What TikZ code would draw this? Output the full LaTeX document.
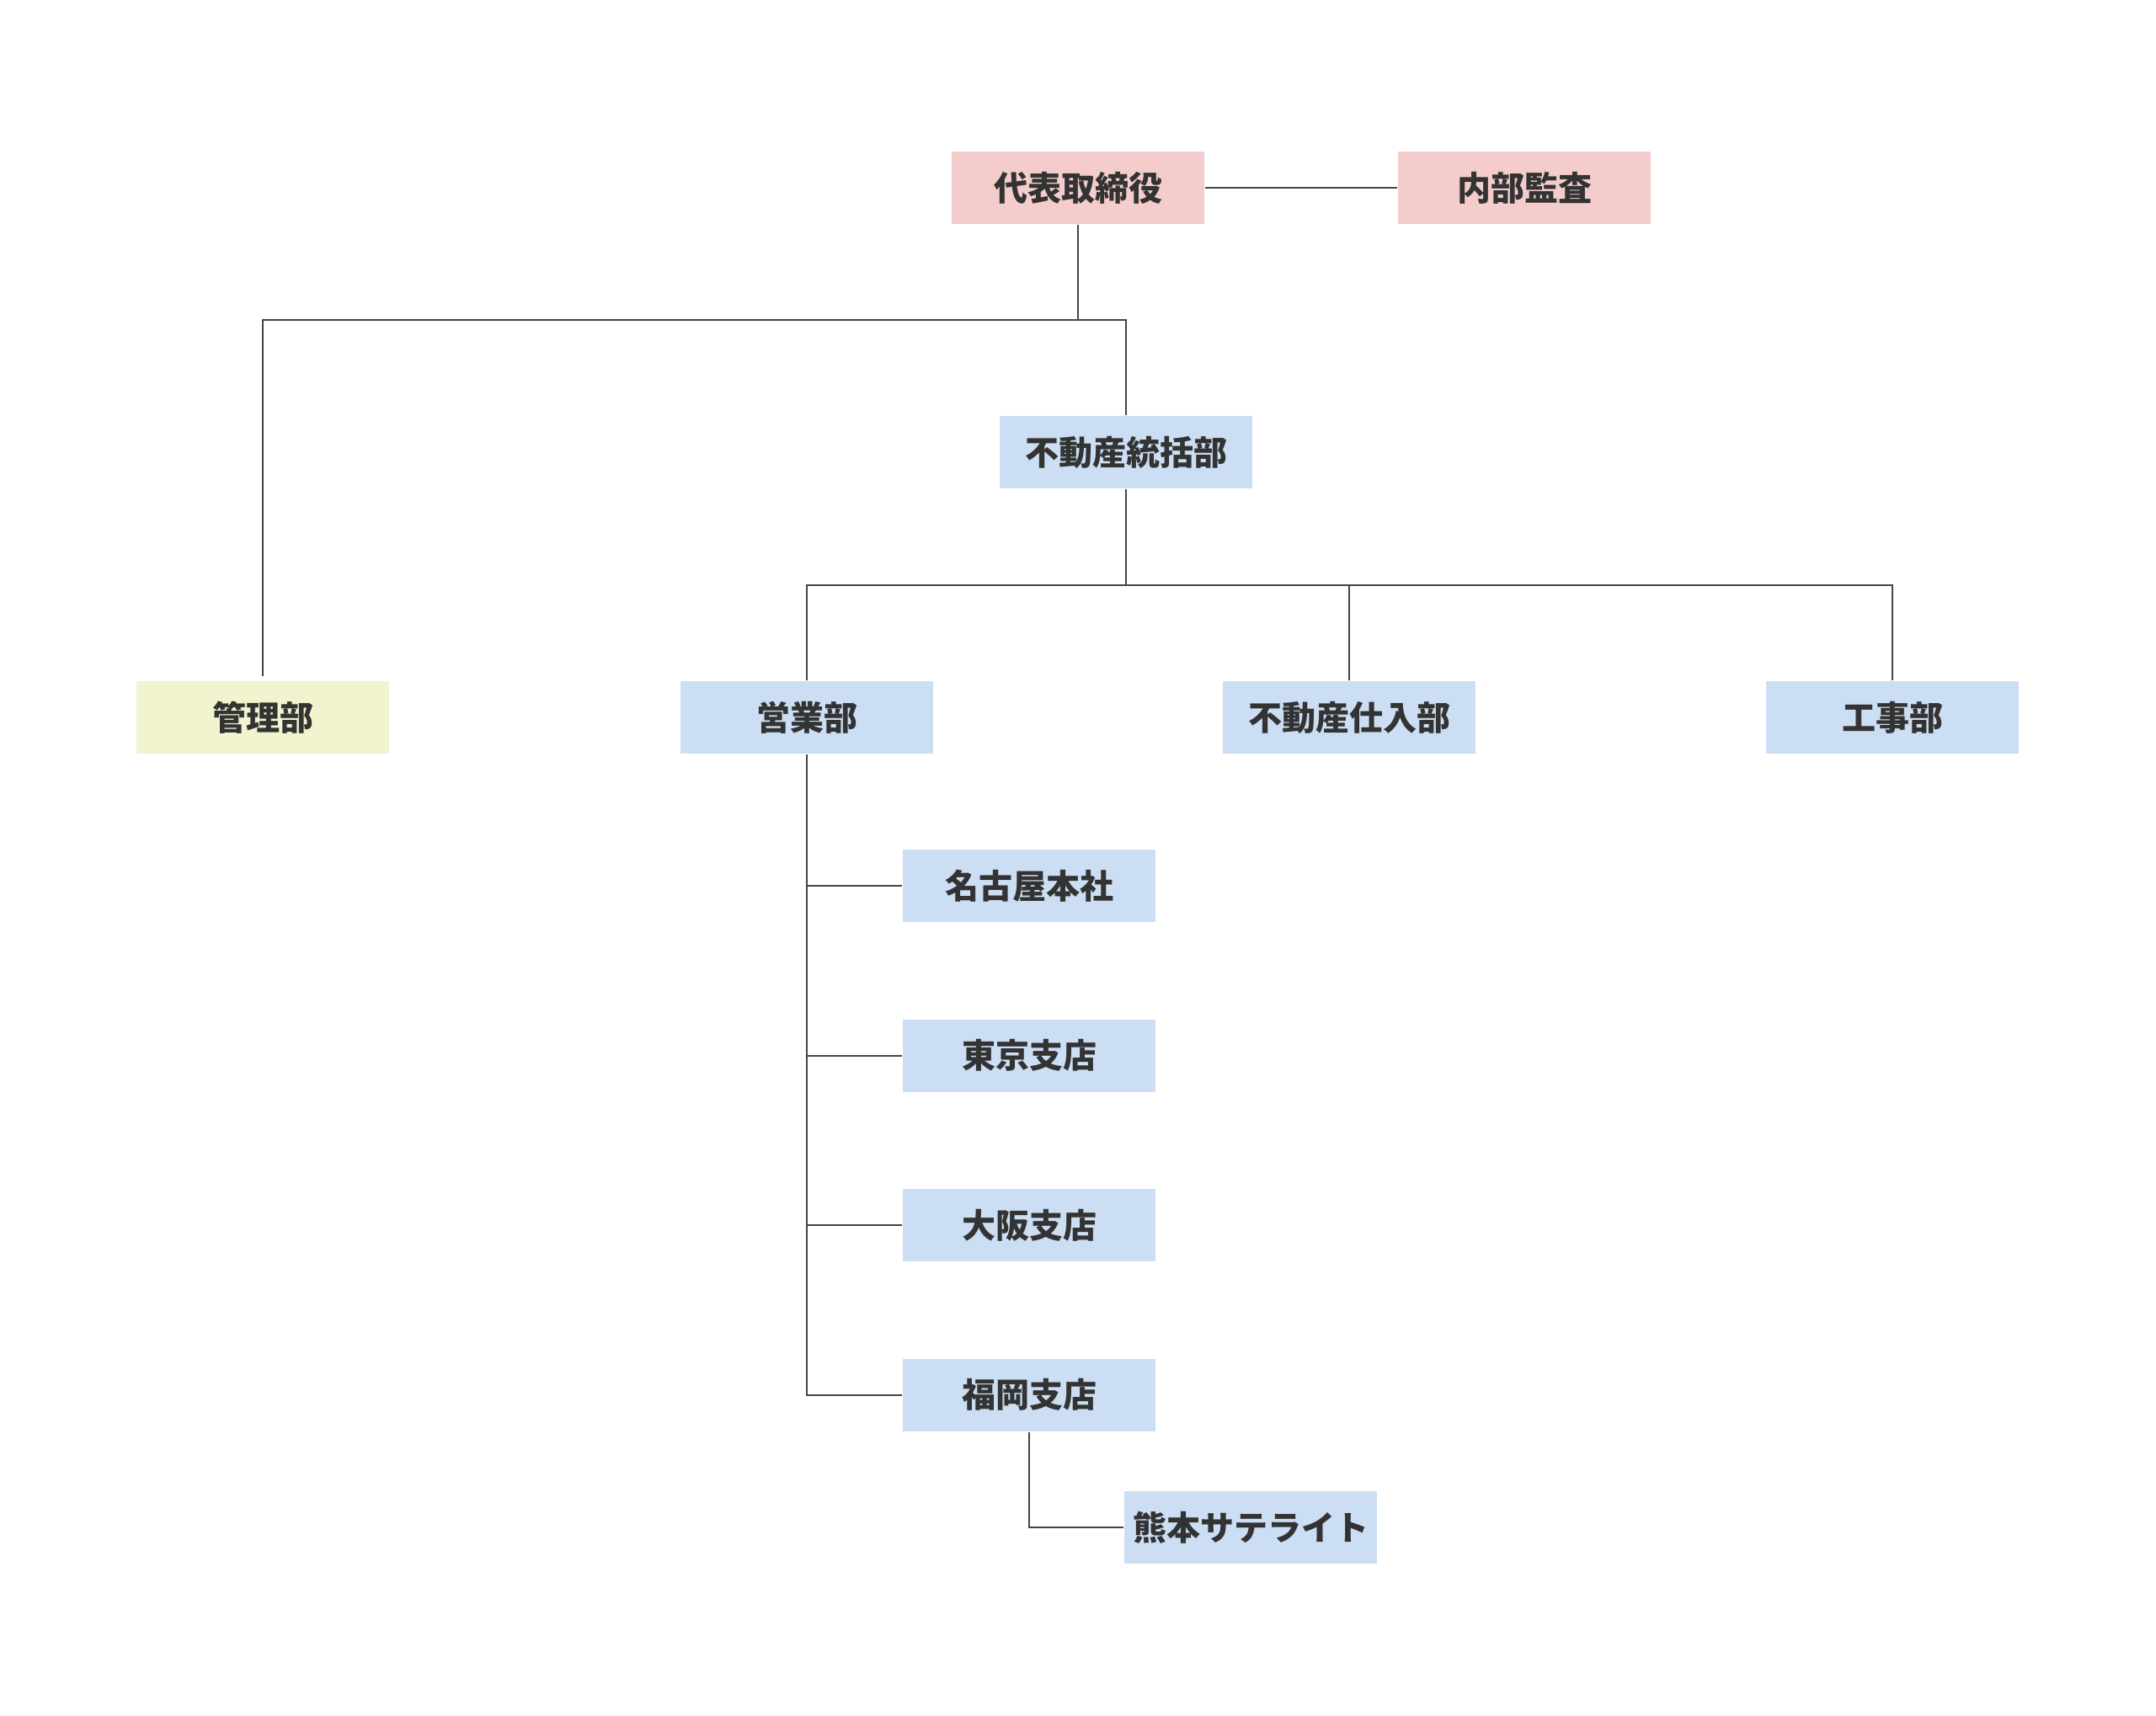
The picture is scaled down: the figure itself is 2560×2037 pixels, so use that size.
\documentclass[tikz,border=0pt]{standalone}
\usepackage{fontspec}
\setmainfont{Noto Sans CJK JP}
\usepackage{tikz}
\usetikzlibrary{positioning}

\definecolor{execpink}{HTML}{F4CCCC}
\definecolor{deptblue}{HTML}{CCDEF3}
\definecolor{adminyellow}{HTML}{F1F4CE}
\definecolor{inkgray}{HTML}{333333}
\definecolor{linegray}{HTML}{444444}

\tikzset{
  unit/.style={minimum width=75pt, minimum height=21.5pt, inner sep=0pt,
    font=\bfseries\fontsize{10pt}{12pt}\selectfont, text=inkgray},
  exec/.style={unit, fill=execpink},
  dept/.style={unit, fill=deptblue},
  admin/.style={unit, fill=adminyellow},
  wire/.style={draw=linegray, line width=0.5pt}
}

\begin{document}
\begin{tikzpicture}[x=0.25pt, y=-0.25pt, node distance=28.5pt]
  \useasboundingbox (0,0) rectangle (2560,2037);

  % top
  \node[exec] (daihyo) at (1280,223) {代表取締役};
  \node[exec] (kansa) at (1810,223) {内部監査};
  \node[dept] (tokatsu) at (1337,537) {不動産統括部};

  % departments
  \node[admin] (kanri) at (312,852) {管理部};
  \node[dept] (eigyo) at (958,852) {営業部};
  \node[dept] (shiire) at (1602,852) {不動産仕入部};
  \node[dept] (koji) at (2247,852) {工事部};

  % branches
  \node[dept] (nagoya) at (1222,1052) {名古屋本社};
  \node[dept, below=of nagoya] (tokyo) {東京支店};
  \node[dept, below=of tokyo] (osaka) {大阪支店};
  \node[dept, below=of osaka] (fukuoka) {福岡支店};
  \node[dept] (kumamoto) at (1485,1814) {熊本サテライト};

  \coordinate (busA) at (1280,380);
  \coordinate (busB) at (1337,695);

  \draw[wire] (daihyo.east) -- (kansa.west);
  \draw[wire] (daihyo.south) -- (busA);
  \draw[wire] ([yshift=1.25pt]kanri.north) |- (busA) -| (tokatsu.north);
  \draw[wire] (tokatsu.south) -- (busB);
  \draw[wire] (eigyo.north) |- (busB) -| (koji.north);
  \draw[wire] (shiire.north) -- (shiire.north |- busB);
  \draw[wire] (eigyo.south) |- (fukuoka.west);
  \foreach \br in {nagoya, tokyo, osaka}
    \draw[wire] (\br.west) -- (\br.west -| eigyo.south);
  \draw[wire] (fukuoka.south) |- (kumamoto.west);
\end{tikzpicture}
\end{document}
